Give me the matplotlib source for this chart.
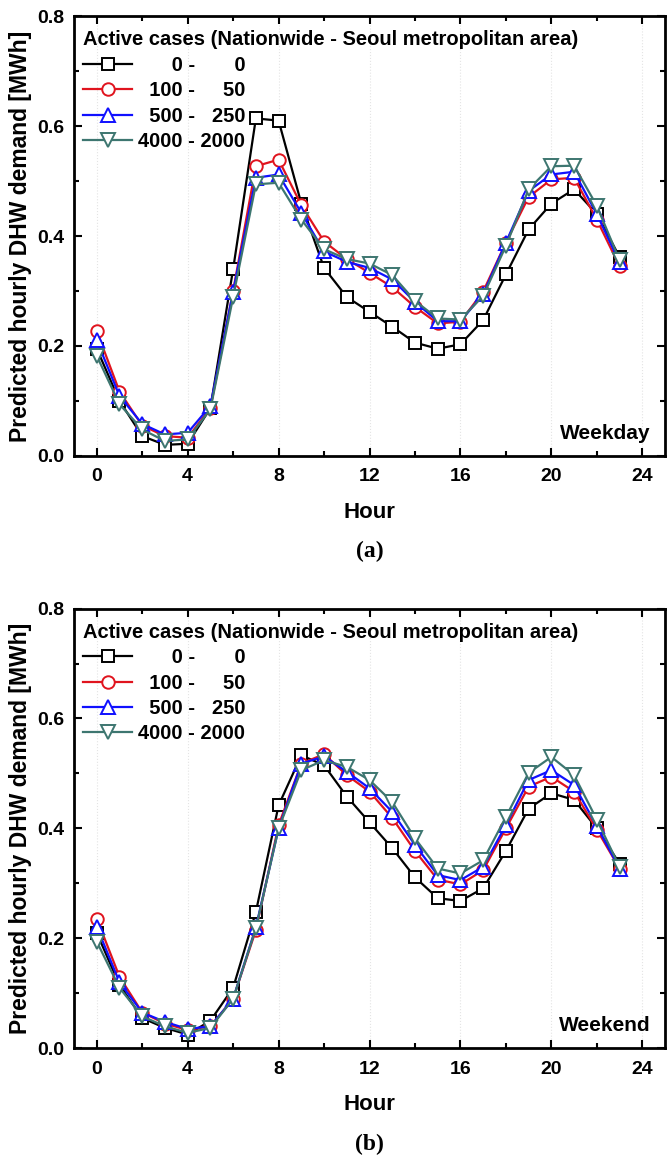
import numpy as np
import matplotlib.pyplot as plt
from matplotlib.ticker import MultipleLocator

plt.rcParams['font.family'] = ['Liberation Sans', 'DejaVu Sans']
plt.rcParams['font.weight'] = 'bold'

hours = np.arange(24)

# case levels (nationwide, seoul metropolitan area)
cases_nation = ['0', '100', '500', '4000']
cases_seoul = ['0', '50', '250', '2000']

# weekday predictions [MWh]
wd_0 = [0.195, 0.100, 0.036, 0.020, 0.022, 0.087, 0.340, 0.614, 0.610, 0.459, 0.342, 0.289,
        0.262, 0.235, 0.206, 0.195, 0.203, 0.247, 0.330, 0.412, 0.459, 0.485, 0.440, 0.362]
wd_100 = [0.227, 0.117, 0.055, 0.036, 0.033, 0.087, 0.300, 0.527, 0.539, 0.456, 0.390, 0.358,
          0.333, 0.307, 0.271, 0.241, 0.244, 0.299, 0.388, 0.471, 0.503, 0.506, 0.430, 0.345]
wd_500 = [0.210, 0.109, 0.058, 0.039, 0.042, 0.091, 0.299, 0.506, 0.512, 0.442, 0.372, 0.353,
          0.342, 0.321, 0.280, 0.245, 0.245, 0.294, 0.388, 0.482, 0.512, 0.517, 0.440, 0.352]
wd_4000 = [0.182, 0.094, 0.048, 0.027, 0.030, 0.085, 0.289, 0.494, 0.497, 0.430, 0.376, 0.358,
           0.350, 0.329, 0.282, 0.250, 0.248, 0.291, 0.382, 0.485, 0.527, 0.528, 0.455, 0.356]

# weekend predictions [MWh]
we_0 = [0.210, 0.115, 0.055, 0.037, 0.025, 0.050, 0.110, 0.248, 0.442, 0.533, 0.515, 0.458,
        0.411, 0.364, 0.311, 0.273, 0.268, 0.291, 0.359, 0.436, 0.464, 0.452, 0.400, 0.336]
we_100 = [0.236, 0.130, 0.065, 0.045, 0.033, 0.040, 0.090, 0.215, 0.406, 0.518, 0.535, 0.497,
          0.467, 0.419, 0.359, 0.307, 0.298, 0.324, 0.400, 0.476, 0.494, 0.467, 0.398, 0.327]
we_500 = [0.221, 0.120, 0.065, 0.048, 0.035, 0.040, 0.090, 0.220, 0.400, 0.518, 0.531, 0.503,
          0.473, 0.430, 0.370, 0.315, 0.306, 0.330, 0.406, 0.488, 0.506, 0.479, 0.404, 0.327]
we_4000 = [0.194, 0.110, 0.058, 0.040, 0.028, 0.037, 0.090, 0.218, 0.400, 0.506, 0.524, 0.512,
           0.488, 0.448, 0.382, 0.327, 0.318, 0.342, 0.421, 0.501, 0.530, 0.497, 0.416, 0.330]

colors = ['black', '#e0141e', '#1010ff', '#3d7670']
markers = ['s', 'o', '^', 'v']
msizes = [8.5, 9, 10, 10.5]


def make_label(a, b):
    # digits are twice the width of a space, so pad to right-align
    return ' ' * (2 * (4 - len(a))) + a + ' - ' + ' ' * (2 * (4 - len(b))) + b


fig = plt.figure(figsize=(6.67, 11.57), dpi=100)
ax1 = fig.add_axes([0.111, 0.606, 0.886, 0.380])
ax2 = fig.add_axes([0.111, 0.094, 0.886, 0.380])

panels = [(ax1, [wd_0, wd_100, wd_500, wd_4000], 'Weekday', '(a)'),
          (ax2, [we_0, we_100, we_500, we_4000], 'Weekend', '(b)')]

for ax, series, tag, letter in panels:
    for i, vals in enumerate(series):
        ax.plot(hours, vals, color=colors[i], marker=markers[i], ms=msizes[i],
                mfc='white', mec=colors[i], mew=1.4, lw=1.6,
                label=make_label(cases_nation[i], cases_seoul[i]))
    ax.set_xlim(-1, 25)
    ax.set_ylim(0, 0.8)
    ax.xaxis.set_major_locator(MultipleLocator(4))
    ax.xaxis.set_minor_locator(MultipleLocator(2))
    ax.yaxis.set_major_locator(MultipleLocator(0.2))
    ax.yaxis.set_minor_locator(MultipleLocator(0.1))
    ax.yaxis.set_major_formatter(lambda v, p: f'{v:.1f}')
    ax.tick_params(which='both', direction='in', top=True, right=True, width=1.5,
                   labelsize=14)
    ax.tick_params(axis='x', pad=9)
    ax.tick_params(axis='y', pad=7)
    ax.tick_params(which='major', length=6)
    ax.tick_params(which='minor', length=3.5)
    for lab in ax.get_xticklabels() + ax.get_yticklabels():
        lab.set_fontweight('bold')
    for s in ax.spines.values():
        s.set_linewidth(2)
    ax.grid(axis='x', which='major', color='#e4e4e4', ls=':', lw=0.8)
    ax.set_axisbelow(True)
    ax.set_xlabel('Hour', fontsize=16, fontweight='bold', labelpad=12)
    ax.set_ylabel('Predicted hourly DHW demand [MWh]', fontsize=16.5, fontweight='bold',
                  labelpad=4)
    ax.text(0.975, 0.03, tag, transform=ax.transAxes, ha='right', va='bottom',
            fontsize=15, fontweight='bold')
    ax.text(0.5, -0.218, letter, transform=ax.transAxes, ha='center', va='center',
            fontsize=17, fontweight='bold', family='Liberation Serif')
    leg = ax.legend(title='Active cases (Nationwide - Seoul metropolitan area)',
                    loc='upper left', bbox_to_anchor=(-0.008, 1.0), frameon=False,
                    fontsize=14.5, handlelength=2.4,
                    borderaxespad=0.4, labelspacing=0.32, handletextpad=0.3,
                    alignment='left', borderpad=0.3)
    leg.get_title().set_fontsize(14.5)
    leg.get_title().set_fontweight('bold')
    for t in leg.get_texts():
        t.set_fontweight('bold')

fig.savefig('out.png', dpi=100)
